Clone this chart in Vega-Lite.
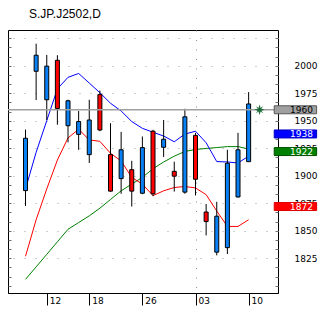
{
  "$schema": "https://vega.github.io/schema/vega-lite/v6.json",
  "width": 270,
  "height": 263,
  "autosize": {"type": "none"},
  "padding": {"left": 8, "top": 30, "right": 54, "bottom": 23},
  "background": "white",
  "title": {"text": "S.JP.J2502,D", "anchor": "start", "frame": "group", "dx": 21, "offset": 0, "baseline": "alphabetic", "font": "Liberation Sans", "fontSize": 12, "fontWeight": "normal", "color": "black"},
  "config": {"view": {"stroke": "black", "strokeWidth": 1}},
  "datasets": {
    "candles": [
      {"t": 0, "o": 1886.5, "h": 1942.0, "l": 1872.5, "c": 1934.1, "ma1": 1888.0, "ma2": 1826.8, "ma3": 1805.8},
      {"t": 1, "o": 1995.0, "h": 2020.1, "l": 1968.8, "c": 2009.6, "ma1": 1921.3, "ma2": 1860.0, "ma3": 1817.1},
      {"t": 2, "o": 1969.1, "h": 2009.9, "l": 1950.7, "c": 1999.7, "ma1": 1950.1, "ma2": 1888.0, "ma3": 1828.5},
      {"t": 3, "o": 2005.0, "h": 2009.6, "l": 1946.4, "c": 1961.2, "ma1": 1979.0, "ma2": 1914.3, "ma3": 1839.9},
      {"t": 4, "o": 1945.5, "h": 1969.1, "l": 1930.3, "c": 1968.2, "ma1": 1989.5, "ma2": 1934.4, "ma3": 1851.3},
      {"t": 5, "o": 1937.6, "h": 1958.9, "l": 1923.6, "c": 1949.3, "ma1": 1993.0, "ma2": 1942.3, "ma3": 1857.4},
      {"t": 6, "o": 1919.2, "h": 1969.1, "l": 1911.6, "c": 1950.7, "ma1": 1984.3, "ma2": 1932.6, "ma3": 1863.5},
      {"t": 7, "o": 1973.8, "h": 1977.5, "l": 1940.5, "c": 1941.6, "ma1": 1975.5, "ma2": 1931.3, "ma3": 1870.5},
      {"t": 8, "o": 1919.2, "h": 1947.8, "l": 1885.5, "c": 1886.0, "ma1": 1965.9, "ma2": 1920.4, "ma3": 1878.4},
      {"t": 9, "o": 1897.4, "h": 1939.9, "l": 1883.6, "c": 1923.6, "ma1": 1958.9, "ma2": 1913.4, "ma3": 1886.3},
      {"t": 10, "o": 1905.5, "h": 1913.6, "l": 1872.0, "c": 1886.0, "ma1": 1949.3, "ma2": 1898.5, "ma3": 1892.4},
      {"t": 11, "o": 1884.1, "h": 1935.7, "l": 1883.2, "c": 1925.6, "ma1": 1943.1, "ma2": 1892.4, "ma3": 1898.5},
      {"t": 12, "o": 1940.5, "h": 1941.8, "l": 1881.4, "c": 1883.6, "ma1": 1939.6, "ma2": 1881.9, "ma3": 1906.4},
      {"t": 13, "o": 1925.9, "h": 1950.7, "l": 1917.1, "c": 1933.2, "ma1": 1936.1, "ma2": 1886.3, "ma3": 1912.5},
      {"t": 14, "o": 1904.0, "h": 1912.8, "l": 1885.6, "c": 1899.6, "ma1": 1930.9, "ma2": 1889.3, "ma3": 1917.8},
      {"t": 15, "o": 1885.1, "h": 1960.9, "l": 1883.6, "c": 1953.6, "ma1": 1937.9, "ma2": 1890.2, "ma3": 1922.1},
      {"t": 16, "o": 1936.7, "h": 1939.0, "l": 1882.1, "c": 1896.8, "ma1": 1940.5, "ma2": 1888.9, "ma3": 1923.9},
      {"t": 17, "o": 1867.0, "h": 1874.3, "l": 1845.7, "c": 1858.3, "ma1": 1930.0, "ma2": 1882.8, "ma3": 1924.8},
      {"t": 18, "o": 1830.5, "h": 1876.3, "l": 1827.6, "c": 1863.2, "ma1": 1912.9, "ma2": 1867.9, "ma3": 1925.6},
      {"t": 19, "o": 1834.6, "h": 1923.6, "l": 1828.8, "c": 1911.4, "ma1": 1912.5, "ma2": 1853.9, "ma3": 1926.5},
      {"t": 20, "o": 1880.7, "h": 1939.0, "l": 1880.2, "c": 1923.6, "ma1": 1911.6, "ma2": 1853.9, "ma3": 1926.5},
      {"t": 21, "o": 1912.8, "h": 1976.1, "l": 1912.5, "c": 1965.3, "ma1": 1917.8, "ma2": 1860.0, "ma3": 1924.3}
    ],
    "tags": [
      {"v": 1960, "k": "last"},
      {"v": 1938, "k": "ma1"},
      {"v": 1922, "k": "ma3"},
      {"v": 1872, "k": "ma2"}
    ]
  },
  "resolve": {"axis": {"y": "independent"}},
  "layer": [
    {
      "data": {"name": "candles"},
      "mark": {"type": "line", "color": "#008000", "strokeWidth": 1},
      "encoding": {
        "x": {"field": "t", "type": "quantitative", "scale": {"domain": [-1.178, 23.294], "nice": false, "zero": false},
          "axis": {"orient": "bottom", "values": [2, 6, 11, 16, 21], "title": null,
            "labelExpr": "datum.value == 2 ? '12' : datum.value == 6 ? '18' : datum.value == 11 ? '26' : datum.value == 16 ? '03' : '10'",
            "tickSize": 12, "tickColor": "black", "domainColor": "black", "labelAlign": "left", "labelBaseline": "alphabetic", "labelPadding": -2, "labelOffset": 2.4,
            "labelFont": "DejaVu Sans", "labelFontSize": 9, "labelColor": "black", "labelFlush": false, "labelOverlap": false,
            "grid": true, "gridColor": "#909090", "gridDash": [1, 8.5],
            "gridOpacity": {"condition": {"test": "datum.value == 16", "value": 1}, "value": 0}}},
        "y": {"field": "ma3", "type": "quantitative", "scale": {"domain": [1797.9, 2028], "nice": false, "zero": false},
          "axis": {"orient": "right", "title": null,
            "values": [1800, 1808.3333, 1816.6667, 1825, 1833.3333, 1841.6667, 1850, 1858.3333, 1866.6667, 1875, 1883.3333, 1891.6667, 1900, 1908.3333, 1916.6667, 1925, 1933.3333, 1941.6667, 1950, 1958.3333, 1966.6667, 1975, 1983.3333, 1991.6667, 2000, 2008.3333, 2016.6667, 2025],
            "labelExpr": "(abs(datum.value/25 - round(datum.value/25)) < 0.001 && datum.value >= 1825 && datum.value <= 2000) ? format(datum.value, 'd') : ''",
            "grid": true, "gridColor": "#a0a0a0", "gridDash": [1, 10],
            "gridOpacity": {"condition": {"test": "abs(datum.value/25 - round(datum.value/25)) < 0.001 && datum.value > 1810", "value": 1}, "value": 0},
            "ticks": true, "tickSize": -3, "tickColor": "#707070", "domain": false,
            "labelAlign": "right", "labelBaseline": "middle", "labelPadding": 42,
            "labelFont": "DejaVu Sans", "labelFontSize": 9, "labelColor": "black", "labelOverlap": false, "labelFlush": false, "zindex": 0}}
      }
    },
    {
      "data": {"name": "candles"},
      "mark": {"type": "line", "color": "#ff0000", "strokeWidth": 1},
      "encoding": {
        "x": {"field": "t", "type": "quantitative"},
        "y": {"field": "ma2", "type": "quantitative",
          "axis": {"orient": "left", "title": null, "labels": false, "grid": false, "domain": false,
            "values": [1800, 1808.3333, 1816.6667, 1825, 1833.3333, 1841.6667, 1850, 1858.3333, 1866.6667, 1875, 1883.3333, 1891.6667, 1900, 1908.3333, 1916.6667, 1925, 1933.3333, 1941.6667, 1950, 1958.3333, 1966.6667, 1975, 1983.3333, 1991.6667, 2000, 2008.3333, 2016.6667, 2025],
            "ticks": true, "tickSize": -3, "tickColor": "#707070"}}
      }
    },
    {
      "data": {"name": "candles"},
      "mark": {"type": "line", "color": "#0000ff", "strokeWidth": 1},
      "encoding": {
        "x": {"field": "t", "type": "quantitative"},
        "y": {"field": "ma1", "type": "quantitative", "axis": null}
      }
    },
    {
      "data": {"name": "candles"},
      "mark": {"type": "rule", "color": "black", "strokeWidth": 1},
      "encoding": {
        "x": {"field": "t", "type": "quantitative"},
        "y": {"field": "l", "type": "quantitative", "axis": null},
        "y2": {"field": "h"}
      }
    },
    {
      "data": {"name": "candles"},
      "mark": {"type": "bar", "size": 4, "stroke": "black", "strokeWidth": 1},
      "encoding": {
        "x": {"field": "t", "type": "quantitative"},
        "y": {"field": "o", "type": "quantitative", "axis": null},
        "y2": {"field": "c"},
        "color": {"condition": {"test": "datum.c >= datum.o", "value": "#0a80f5"}, "value": "#ff0000"}
      }
    },
    {
      "data": {"name": "tags"},
      "transform": [{"filter": "datum.k == 'last'"}],
      "mark": {"type": "rule", "color": "#a0a0a0", "strokeWidth": 1.5},
      "encoding": {
        "y": {"field": "v", "type": "quantitative", "axis": null}
      }
    },
    {
      "data": {"name": "tags"},
      "transform": [{"filter": "datum.k == 'last'"}],
      "mark": {"type": "point", "filled": true, "clip": false, "size": 110, "opacity": 1,
        "shape": "M0,-1L0.2,-0.35L0.7,-0.7L0.35,-0.2L1,0L0.35,0.2L0.7,0.7L0.2,0.35L0,1L-0.2,0.35L-0.7,0.7L-0.35,0.2L-1,0L-0.35,-0.2L-0.7,-0.7L-0.2,-0.35Z",
        "color": "#1d6b38"},
      "encoding": {
        "x": {"datum": 22.03, "type": "quantitative"},
        "y": {"field": "v", "type": "quantitative", "axis": null}
      }
    },
    {
      "data": {"name": "tags"},
      "mark": {"type": "bar", "orient": "horizontal", "size": 8, "clip": false, "strokeWidth": 1},
      "encoding": {
        "x": {"datum": 23.41, "type": "quantitative"},
        "x2": {"datum": 27.4},
        "y": {"field": "v", "type": "quantitative", "axis": null},
        "fill": {"field": "k", "type": "nominal", "legend": null, "scale": {"domain": ["last", "ma1", "ma3", "ma2"], "range": ["#a0a0a0", "#0000ff", "#008000", "#ff0000"]}},
        "stroke": {"field": "k", "type": "nominal", "legend": null, "scale": {"domain": ["last", "ma1", "ma3", "ma2"], "range": ["#585858", "#0000c0", "#005000", "#e00000"]}}
      }
    },
    {
      "data": {"name": "tags"},
      "mark": {"type": "text", "clip": false, "align": "right", "baseline": "middle", "font": "DejaVu Sans", "fontSize": 9},
      "encoding": {
        "x": {"datum": 27.05, "type": "quantitative"},
        "y": {"field": "v", "type": "quantitative", "axis": null},
        "text": {"field": "v", "type": "quantitative", "format": "d"},
        "color": {"condition": {"test": "datum.k == 'last'", "value": "black"}, "value": "white"}
      }
    },
    {
      "mark": {"type": "text", "align": "left", "baseline": "alphabetic", "font": "DejaVu Sans", "fontSize": 9, "color": "#303030", "dx": 1.5, "text": "Mar"},
      "encoding": {
        "x": {"datum": 16, "type": "quantitative"},
        "y": {"datum": 1799.2, "type": "quantitative", "axis": null}
      }
    }
  ]
}
